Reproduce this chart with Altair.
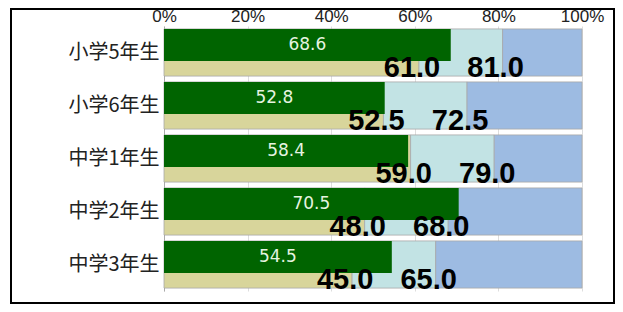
import altair as alt
import pandas as pd

categories = ["小学5年生", "小学6年生", "中学1年生", "中学2年生", "中学3年生"]
green_values = [68.6, 52.8, 58.4, 70.5, 54.5]
first_bound = [61.0, 52.5, 59.0, 48.0, 45.0]
second_bound = [81.0, 72.5, 79.0, 68.0, 65.0]
seg_names = ["a", "b", "c"]
seg_colors = ["#d8d59b", "#c2e3e4", "#9dbbe2"]

rows = []
for c, a, b in zip(categories, first_bound, second_bound):
    rows.append({"cat": c, "seg": "a", "x0": 0.0, "x1": a})
    rows.append({"cat": c, "seg": "b", "x0": a, "x1": b})
    rows.append({"cat": c, "seg": "c", "x0": b, "x1": 100.0})
seg_df = pd.DataFrame(rows)
green_df = pd.DataFrame({"cat": categories, "v": green_values,
                         "mid": [v / 2 for v in green_values],
                         "lab": [f"{v:.1f}" for v in green_values]})
lab_rows = []
for c, a, b in zip(categories, first_bound, second_bound):
    lab_rows.append({"cat": c, "x": a, "lab": f"{a:.1f}"})
    lab_rows.append({"cat": c, "x": b, "lab": f"{b:.1f}"})
lab_df = pd.DataFrame(lab_rows)

yscale = alt.Scale(domain=categories, paddingInner=0.11, paddingOuter=0.055)
xscale = alt.Scale(domain=[0, 100], nice=False)

yenc = alt.Y("cat:N", scale=yscale, sort=categories, title=None,
             axis=alt.Axis(labelFont="Noto Sans CJK JP", labelFontSize=20,
                           labelColor="#222222", labelPadding=5, ticks=False,
                           domain=True, domainColor="#aaaaaa", grid=False))

segs = alt.Chart(seg_df).mark_bar(stroke="#a8a8a8", strokeWidth=0.8).encode(
    x=alt.X("x0:Q", scale=xscale, title=None,
            axis=alt.Axis(orient="top", values=[0, 20, 40, 60, 80, 100],
                          labelExpr="datum.value + '%'", labelFont="Liberation Sans",
                          labelFontSize=17, labelColor="#222222", ticks=False,
                          domain=False, labelPadding=1, labelFlush=False,
                          grid=True, gridColor="#dddddd", gridWidth=1)),
    x2="x1:Q",
    y=yenc,
    color=alt.Color("seg:N", scale=alt.Scale(domain=seg_names, range=seg_colors), legend=None),
)

green = alt.Chart(green_df).mark_bar(height=32, yOffset=-7.6, color="#006400").encode(
    x=alt.X("v:Q", scale=xscale),
    y=alt.Y("cat:N", scale=yscale, sort=categories),
)

green_text = alt.Chart(green_df).mark_text(font="DejaVu Sans", fontSize=17, color="#e6f4e0",
                                           yOffset=-8, baseline="middle").encode(
    x=alt.X("mid:Q", scale=xscale),
    y=alt.Y("cat:N", scale=yscale, sort=categories),
    text="lab:N",
)

big_text = alt.Chart(lab_df).mark_text(font="Liberation Sans", fontWeight="bold", fontSize=29,
                                       color="#000000", dx=-7, yOffset=15, baseline="middle").encode(
    x=alt.X("x:Q", scale=xscale),
    y=alt.Y("cat:N", scale=yscale, sort=categories),
    text="lab:N",
)

frame = alt.Chart(pd.DataFrame({"d": [0]})).mark_rect(filled=False, stroke="#000000", strokeWidth=2).encode(
    x=alt.value(-153), x2=alt.value(450), y=alt.value(-17), y2=alt.value(277)
)

chart = alt.layer(segs, green, green_text, big_text, frame).properties(
    width=418, height=265, autosize=alt.AutoSizeParams(type="none"),
    padding={"left": 156, "top": 18, "right": 33, "bottom": 13},
).configure_view(stroke=None)

chart.save("out.html", embed_options={"renderer": "svg", "actions": False})
